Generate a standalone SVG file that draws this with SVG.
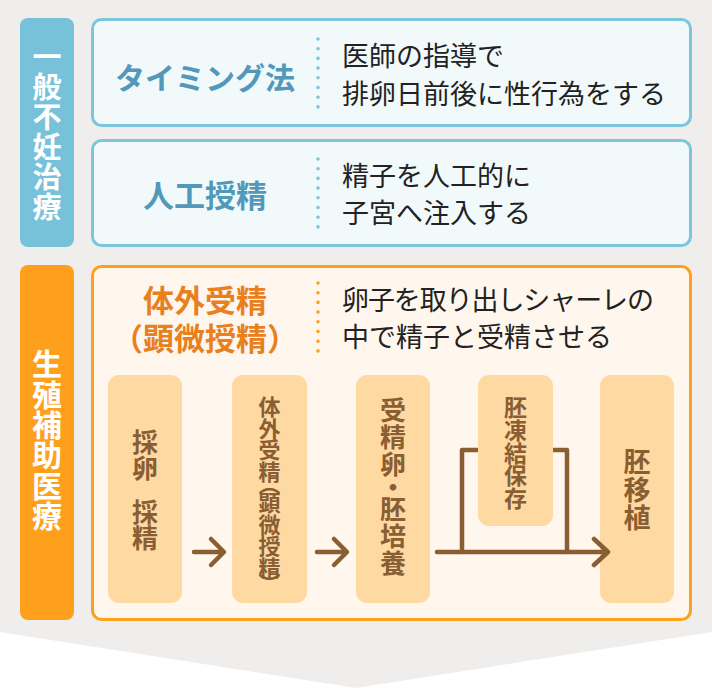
<svg xmlns="http://www.w3.org/2000/svg" width="712" height="688" viewBox="0 0 712 688">
<style>
.t{font-family:"Noto Sans CJK JP","Noto Sans CJK SC",sans-serif}
.v{writing-mode:vertical-rl;text-anchor:start}
.lbl{font-weight:700;fill:#ffffff}
.ttlB{font-size:31px;font-weight:700;fill:#5198b9;text-anchor:middle;dominant-baseline:central}
.ttlO{font-size:31px;font-weight:700;fill:#e8801e;text-anchor:middle;dominant-baseline:central}
.body{font-size:27px;font-weight:400;fill:#222222;dominant-baseline:central}
.bluebox{fill:#f2f9fb;stroke:#7cc5dc;stroke-width:3}
.orbox{fill:#fff7ee;stroke:#ffa01c;stroke-width:3}
.flow{fill:#ffd9a2}
.ft{font-weight:700;fill:#8a5e33}
.dotB{stroke:#7ec5dc;stroke-width:3.6;stroke-linecap:round;stroke-dasharray:0 9.7;fill:none}
.dotO{stroke:#ffa01c;stroke-width:3.6;stroke-linecap:round;stroke-dasharray:0 9.7;fill:none}
.con{stroke:#8a5e33;stroke-width:4.5;fill:none;stroke-linecap:round;stroke-linejoin:round}
</style>
<rect width="712" height="688" fill="#ffffff"/>
<polygon points="0,0 712,0 712,632 356,688 0,632" fill="#efeeec"/>

<g id="label-general">
<rect x="20" y="18" width="54" height="229" rx="8" fill="#77c2da"/>
<text class="t v lbl" x="47" y="42.5" style="font-size:29px;letter-spacing:1px">一般不妊治療</text>
</g>

<g id="timing">
<rect class="bluebox" x="92.5" y="19.5" width="598" height="106" rx="9"/>
<text class="t ttlB" x="205" y="76" style="font-size:30px">タイミング法</text>
<line class="dotB" x1="318" y1="39" x2="318" y2="107"/>
<text class="t body" x="342" y="54.5">医師の指導で</text>
<text class="t body" x="342" y="92.5">排卵日前後に性行為をする</text>
</g>

<g id="ai">
<rect class="bluebox" x="92.5" y="140.5" width="598" height="105" rx="9"/>
<text class="t ttlB" x="205" y="193">人工授精</text>
<line class="dotB" x1="318" y1="159" x2="318" y2="227"/>
<text class="t body" x="342" y="174">精子を人工的に</text>
<text class="t body" x="342" y="211">子宮へ注入する</text>
</g>

<g id="label-art">
<rect x="20" y="265" width="54" height="355" rx="8" fill="#ffa01c"/>
<text class="t v lbl" x="47" y="349" style="font-size:30px;letter-spacing:0.3px">生殖補助医療</text>
</g>

<g id="ivf">
<rect class="orbox" x="92.5" y="266.5" width="598" height="353" rx="9"/>
<text class="t ttlO"><tspan x="205" y="297.5">体外受精</tspan><tspan x="205" y="336">（顕微授精）</tspan></text>
<line class="dotO" x1="318" y1="283" x2="318" y2="351"/>
<text class="t body" x="342" y="298.5" textLength="312" lengthAdjust="spacing">卵子を取り出しシャーレの</text>
<text class="t body" x="342" y="335">中で精子と受精させる</text>
</g>

<g id="step-retrieval">
<rect class="flow" x="108" y="375" width="74" height="228" rx="11"/>
<text class="t v ft" x="145" y="429" dy="0 0 17 0" style="font-size:26px;letter-spacing:0.5px">採卵採精</text>
</g>

<g id="step-fertilization">
<rect class="flow" x="232" y="375" width="75" height="228" rx="11"/>
<text class="t v ft" x="269.5" y="396" dy="0 0 0 0 -9 -2.5 0 0 0 -5" style="font-size:22px;letter-spacing:-0.5px">体外受精（顕微授精）</text>
</g>

<g id="step-culture">
<rect class="flow" x="356" y="375" width="74" height="228" rx="11"/>
<text class="t v ft" x="393" y="397" dy="0 0 0 -4 -5 0 0" style="font-size:26px;letter-spacing:1px">受精卵・胚培養</text>
</g>

<g id="step-transfer">
<rect class="flow" x="600" y="375" width="74" height="228" rx="11"/>
<text class="t v ft" x="637" y="448" style="font-size:27px;letter-spacing:1px">胚移植</text>
</g>

<g id="connectors">
<path class="con" d="M462,552 V450 H567 V552"/>
<path class="con" d="M194,552 H222 M211,539 L224,552 L211,565"/>
<path class="con" d="M317,552 H345 M334,539 L347,552 L334,565"/>
<path class="con" d="M437,552 H606 M594,539 L608,552 L594,565"/>
</g>

<g id="step-freeze">
<rect class="flow" x="478" y="375" width="75" height="151" rx="11"/>
<text class="t v ft" x="515.5" y="396" style="font-size:23px;letter-spacing:-0.25px">胚凍結保存</text>
</g>
</svg>
